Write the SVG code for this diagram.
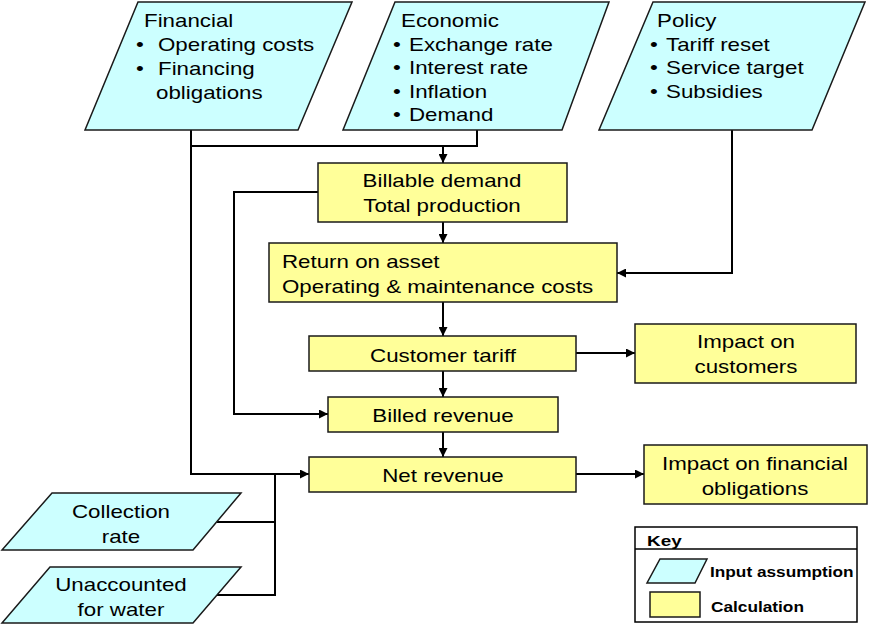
<svg xmlns="http://www.w3.org/2000/svg" width="870" height="626" viewBox="0 0 870 626">
<defs>
<marker id="arr" viewBox="0 0 10 10" refX="10" refY="5" markerWidth="9" markerHeight="9" markerUnits="userSpaceOnUse" orient="auto">
<path d="M0,0 L10,5 L0,10 z" fill="#000"/>
</marker>
<style>
.inp{fill:#CCFFFF;stroke:#1a1a1a;stroke-width:1.5}
.calc{fill:#FFFF99;stroke:#1a1a1a;stroke-width:1.5}
.t{font-family:"Liberation Sans",Arial,sans-serif;font-size:18px;fill:#000}
.k{font-family:"Liberation Sans",Arial,sans-serif;font-size:14.5px;font-weight:bold;fill:#000}
.kb{font-family:"Liberation Sans",Arial,sans-serif;font-size:15.5px;font-weight:bold;fill:#000}
.c{text-anchor:middle}
.ln{fill:none;stroke:#000;stroke-width:2}
</style>
</defs>
<rect width="870" height="626" fill="#fff"/>

<g id="connectors">
<path class="ln" d="M191,130 V474 H309" marker-end="url(#arr)"/>
<path class="ln" d="M191,146 H477 V130"/>
<path class="ln" d="M443,146 V163" marker-end="url(#arr)"/>
<path class="ln" d="M732,130 V273 H617" marker-end="url(#arr)"/>
<path class="ln" d="M443,222 V243" marker-end="url(#arr)"/>
<path class="ln" d="M318,192 H234 V414 H328" marker-end="url(#arr)"/>
<path class="ln" d="M443,302 V336" marker-end="url(#arr)"/>
<path class="ln" d="M443,371 V397" marker-end="url(#arr)"/>
<path class="ln" d="M443,432 V457" marker-end="url(#arr)"/>
<path class="ln" d="M576,353 H635" marker-end="url(#arr)"/>
<path class="ln" d="M576,474 H644" marker-end="url(#arr)"/>
<path class="ln" d="M217,522 H275"/>
<path class="ln" d="M217,595 H275 V474"/>
</g>

<g id="financial">
<polygon class="inp" points="138,2 352,2 298,130 85,130"/>
<text class="t" transform="translate(144,0) scale(1.24,1)" y="27">Financial</text>
<text class="t" transform="translate(136,0) scale(1.24,1)" y="51">•</text>
<text class="t" transform="translate(158,0) scale(1.24,1)" y="51">Operating costs</text>
<text class="t" transform="translate(136,0) scale(1.24,1)" y="75">•</text>
<text class="t" transform="translate(158,0) scale(1.24,1)" y="75">Financing</text>
<text class="t" transform="translate(156,0) scale(1.24,1)" y="99">obligations</text>
</g>

<g id="economic">
<polygon class="inp" points="395,2 609,2 562,130 343,130"/>
<text class="t" transform="translate(401,0) scale(1.24,1)" y="27">Economic</text>
<text class="t" transform="translate(393,0) scale(1.24,1)" y="51">•</text>
<text class="t" transform="translate(409,0) scale(1.24,1)" y="51">Exchange rate</text>
<text class="t" transform="translate(393,0) scale(1.24,1)" y="74">•</text>
<text class="t" transform="translate(409,0) scale(1.24,1)" y="74">Interest rate</text>
<text class="t" transform="translate(393,0) scale(1.24,1)" y="98">•</text>
<text class="t" transform="translate(409,0) scale(1.24,1)" y="98">Inflation</text>
<text class="t" transform="translate(393,0) scale(1.24,1)" y="121">•</text>
<text class="t" transform="translate(409,0) scale(1.24,1)" y="121">Demand</text>
</g>

<g id="policy">
<polygon class="inp" points="653,2 865,2 812,130 599,130"/>
<text class="t" transform="translate(657,0) scale(1.24,1)" y="27">Policy</text>
<text class="t" transform="translate(650,0) scale(1.24,1)" y="51">•</text>
<text class="t" transform="translate(666,0) scale(1.24,1)" y="51">Tariff reset</text>
<text class="t" transform="translate(650,0) scale(1.24,1)" y="74">•</text>
<text class="t" transform="translate(666,0) scale(1.24,1)" y="74">Service target</text>
<text class="t" transform="translate(650,0) scale(1.24,1)" y="98">•</text>
<text class="t" transform="translate(666,0) scale(1.24,1)" y="98">Subsidies</text>
</g>

<g id="billable">
<rect class="calc" x="318" y="163" width="249" height="59"/>
<text class="t c" transform="translate(442,0) scale(1.24,1)" y="187">Billable demand</text>
<text class="t c" transform="translate(442,0) scale(1.24,1)" y="212">Total production</text>
</g>

<g id="return">
<rect class="calc" x="269" y="243" width="348" height="59"/>
<text class="t" transform="translate(282,0) scale(1.24,1)" y="268">Return on asset</text>
<text class="t" transform="translate(282,0) scale(1.24,1)" y="293">Operating &amp; maintenance costs</text>
</g>

<g id="tariff">
<rect class="calc" x="309" y="336" width="267" height="35"/>
<text class="t c" transform="translate(443,0) scale(1.24,1)" y="362">Customer tariff</text>
</g>

<g id="billed">
<rect class="calc" x="328" y="397" width="230" height="35"/>
<text class="t c" transform="translate(443,0) scale(1.24,1)" y="422">Billed revenue</text>
</g>

<g id="net">
<rect class="calc" x="309" y="457" width="267" height="35"/>
<text class="t c" transform="translate(443,0) scale(1.24,1)" y="482">Net revenue</text>
</g>

<g id="impact-customers">
<rect class="calc" x="635" y="324" width="221" height="59"/>
<text class="t c" transform="translate(746,0) scale(1.24,1)" y="348">Impact on</text>
<text class="t c" transform="translate(746,0) scale(1.24,1)" y="373">customers</text>
</g>

<g id="impact-financial">
<rect class="calc" x="644" y="445" width="223" height="59"/>
<text class="t c" transform="translate(755,0) scale(1.24,1)" y="470">Impact on financial</text>
<text class="t c" transform="translate(755,0) scale(1.24,1)" y="495">obligations</text>
</g>

<g id="collection">
<polygon class="inp" points="52,493 241,493 193,550 2,550"/>
<text class="t c" transform="translate(121,0) scale(1.24,1)" y="518">Collection</text>
<text class="t c" transform="translate(121,0) scale(1.24,1)" y="543">rate</text>
</g>

<g id="unaccounted">
<polygon class="inp" points="50,567 241,567 193,623 2,623"/>
<text class="t c" transform="translate(121,0) scale(1.24,1)" y="591">Unaccounted</text>
<text class="t c" transform="translate(121,0) scale(1.24,1)" y="616">for water</text>
</g>

<g id="key">
<rect x="635" y="527" width="222" height="95" fill="#fff" stroke="#000" stroke-width="1.5"/>
<line x1="635" y1="549" x2="857" y2="549" stroke="#000" stroke-width="1.5"/>
<text class="kb" transform="translate(647,0) scale(1.22,1)" y="546">Key</text>
<polygon class="inp" points="660,559 707,559 695,583 647,583"/>
<text class="k" transform="translate(710,0) scale(1.19,1)" y="577">Input assumption</text>
<rect class="calc" x="650" y="592" width="50" height="25"/>
<text class="k" transform="translate(711,0) scale(1.19,1)" y="612">Calculation</text>
</g>
</svg>
